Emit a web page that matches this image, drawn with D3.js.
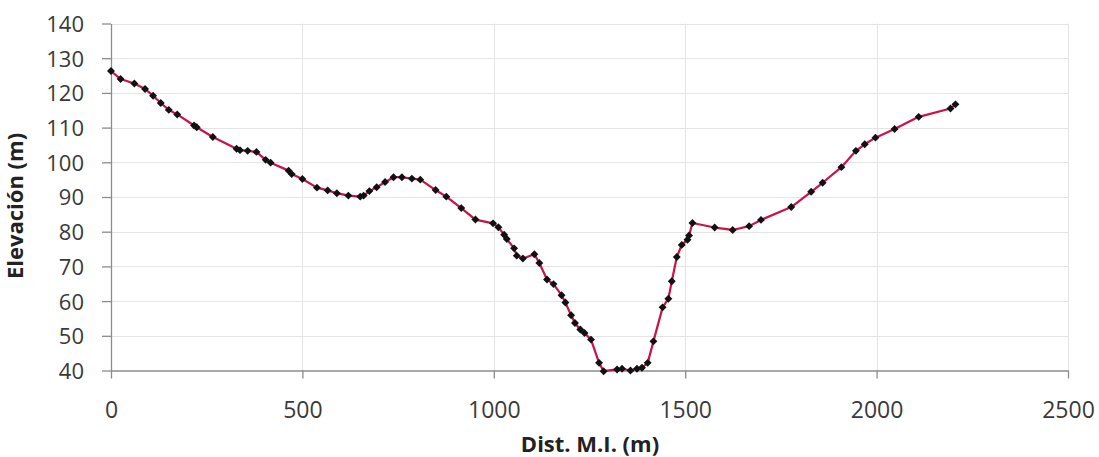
<!DOCTYPE html>
<html>
<head>
<meta charset="utf-8">
<script src="https://cdn.jsdelivr.net/npm/d3@7"></script>
<style>
  html, body { margin: 0; padding: 0; background: #fff; }
  svg { display: block; }
  .tick text { font-family: "Open Sans", sans-serif; fill: #3a3a3a; }
  .axis-title { font-family: "Open Sans", sans-serif; font-weight: bold; fill: #222; }
</style>
</head>
<body>
<svg id="chart" width="1099" height="457"></svg>
<script>
// Longitudinal profile: distance along the section (m) vs. elevation (m)
const distance = [
  0, 25, 61, 89, 110, 130, 151, 173, 217, 224, 266, 328, 337, 357, 380, 404, 417,
  464, 472, 500, 538, 566, 590, 620, 651, 660, 675, 694, 716, 738, 760, 786, 808,
  848, 876, 915, 952, 998, 1012, 1027, 1034, 1053, 1060, 1076, 1106, 1119, 1139,
  1156, 1177, 1187, 1202, 1212, 1226, 1237, 1254, 1275, 1287, 1322, 1335, 1357,
  1374, 1387, 1402, 1417, 1441, 1456, 1465, 1478, 1491, 1506, 1510, 1519, 1577,
  1624, 1667, 1698, 1777, 1829, 1859, 1908, 1946, 1969, 1997, 2047, 2110, 2193, 2206
];
const elevation = [
  126.3, 124.0, 122.7, 121.1, 119.2, 117.1, 115.1, 113.8, 110.6, 110.1, 107.3, 103.9, 103.5, 103.3, 103.0, 100.7, 99.9,
  97.6, 96.6, 95.2, 92.7, 91.9, 91.1, 90.4, 90.1, 90.4, 91.7, 92.8, 94.3, 95.7, 95.7, 95.3, 95.0,
  92.0, 90.1, 86.8, 83.5, 82.4, 81.3, 79.1, 77.9, 75.2, 73.1, 72.3, 73.5, 71.0, 66.2,
  64.9, 61.7, 59.6, 55.9, 53.7, 51.8, 50.8, 48.9, 42.2, 39.8, 40.3, 40.5, 40.0,
  40.5, 40.8, 42.2, 48.4, 58.2, 60.7, 65.7, 72.7, 76.2, 77.7, 78.9, 82.5, 81.2,
  80.5, 81.6, 83.4, 87.1, 91.5, 94.1, 98.6, 103.3, 105.2, 107.1, 109.6, 113.1, 115.5, 116.7
];
const xTicks = [0, 500, 1000, 1500, 2000, 2500];
const yTicks = [40, 50, 60, 70, 80, 90, 100, 110, 120, 130, 140];
const xLabel = "Dist. M.I. (m)";
const yLabel = "Elevación (m)";

const points = distance.map((d, i) => ({ x: d, y: elevation[i] }));

const svg = d3.select("#chart");
const W = 1099, H = 457;
const margin = { top: 23.5, right: 31, bottom: 86.5, left: 111 };

const x = d3.scaleLinear().domain([0, 2500]).range([margin.left, W - margin.right]);
const y = d3.scaleLinear().domain([40, 140]).range([H - margin.bottom, margin.top]);

svg.append("rect").attr("width", W).attr("height", H).attr("fill", "#fff");

// light grid
const grid = svg.append("g").attr("stroke", "#e4e4e4").attr("stroke-width", 1);
grid.selectAll("line.h").data(yTicks.slice(1)).join("line")
  .attr("x1", x(0)).attr("x2", x(2500))
  .attr("y1", d => Math.round(y(d)) + 0.5).attr("y2", d => Math.round(y(d)) + 0.5);
grid.selectAll("line.v").data(xTicks.slice(1)).join("line")
  .attr("y1", y(40)).attr("y2", y(140))
  .attr("x1", d => Math.round(x(d)) + 0.5).attr("x2", d => Math.round(x(d)) + 0.5);

// axes
const yAxis = svg.append("g")
  .attr("transform", `translate(${margin.left},0)`)
  .call(d3.axisLeft(y).tickValues(yTicks).tickFormat(d3.format("d"))
    .tickSize(9).tickPadding(18).tickSizeOuter(0));
yAxis.selectAll("text").style("font-size", "22px").attr("dy", "0.36em");

const xAxis = svg.append("g")
  .attr("transform", `translate(0,${y(40)})`)
  .call(d3.axisBottom(x).tickValues(xTicks).tickFormat(d3.format("d"))
    .tickSize(8).tickPadding(23).tickSizeOuter(0));
xAxis.selectAll("text").style("font-size", "23px");

svg.selectAll(".domain, .tick line").attr("stroke", "#8c8c8c").attr("stroke-width", 1.3);

// profile line
const line = d3.line().x(d => x(d.x)).y(d => y(d.y));
svg.append("path")
  .datum(points)
  .attr("fill", "none")
  .attr("stroke", "#cc1148")
  .attr("stroke-width", 2.2)
  .attr("stroke-linejoin", "round")
  .attr("d", line);

// survey points
const diamond = d3.symbol().type(d3.symbolDiamond2).size(40);
svg.append("g").selectAll("path").data(points).join("path")
  .attr("d", diamond)
  .attr("fill", "#111")
  .attr("transform", d => `translate(${x(d.x)},${y(d.y)})`);

// axis titles
svg.append("text").attr("class", "axis-title")
  .attr("x", 590).attr("y", 452)
  .attr("text-anchor", "middle")
  .style("font-size", "22px")
  .text(xLabel);

svg.append("text").attr("class", "axis-title")
  .attr("transform", "translate(23,206) rotate(-90)")
  .attr("text-anchor", "middle")
  .style("font-size", "22px")
  .text(yLabel);
</script>
</body>
</html>
